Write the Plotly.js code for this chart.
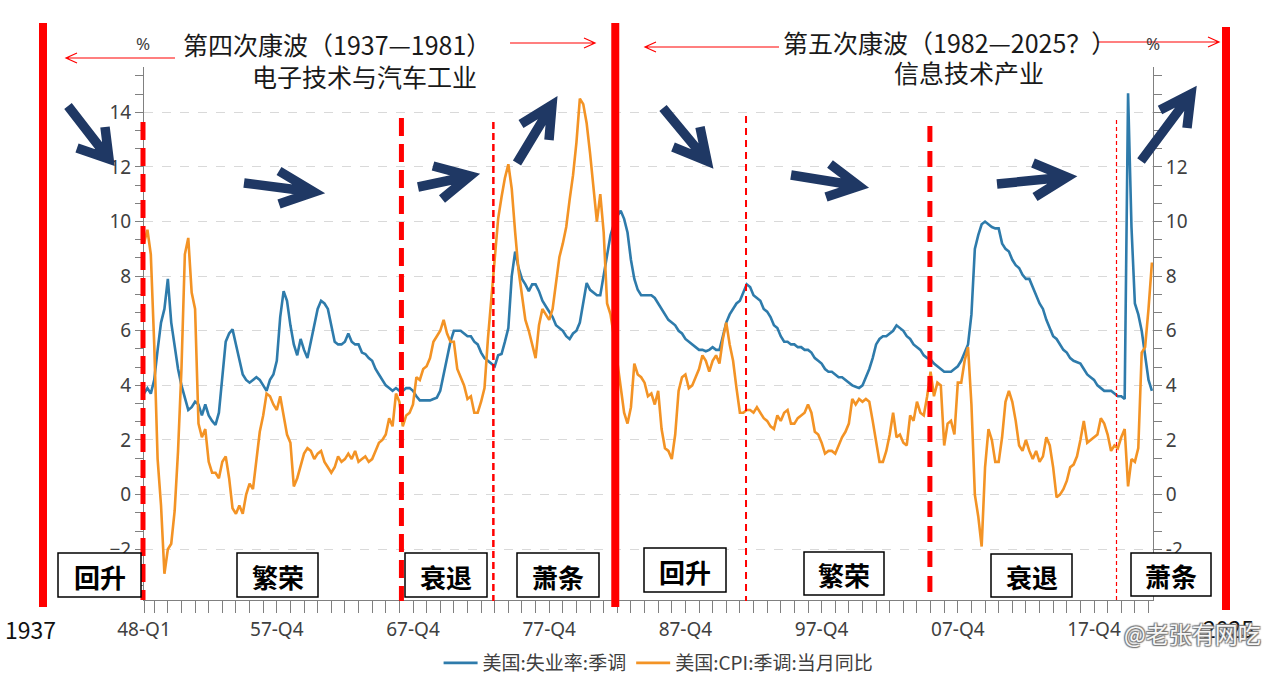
<!DOCTYPE html>
<html>
<head>
<meta charset="utf-8">
<script src="https://cdn.plot.ly/plotly-3.0.1.min.js"></script>
<style>html,body{margin:0;padding:0;background:#fff;}#chart{width:1265px;height:677px;}</style>
</head>
<body>
<div id="chart"></div>
<script>
// ---------------- DATA (quarterly, 1948-Q1 .. 2022-Q1) ----------------
const startYear = 1948;
const seriesNames = ['美国:失业率:季调', '美国:CPI:季调:当月同比'];
const unemployment = [
  3.7, 3.9, 3.7, 4.2,   5.3, 6.3, 6.8, 7.9,   6.3, 5.5, 4.6, 4.0,   3.5, 3.1, 3.2, 3.4,
  3.3, 2.9, 3.3, 2.9,   2.7, 2.55, 3.0, 4.3,  5.6, 5.9, 6.05, 5.5,  4.9, 4.4, 4.2, 4.1,
  4.2, 4.3, 4.2, 4.0,   3.8, 4.2, 4.4, 4.9,   6.5, 7.45, 7.1, 6.2,  5.5, 5.1, 5.7, 5.3,
  5.0, 5.6, 6.2, 6.8,   7.1, 7.0, 6.8, 6.2,   5.6, 5.5, 5.5, 5.6,   5.9, 5.6, 5.5, 5.5,
  5.2, 5.15, 5.0, 4.9,  4.6, 4.4, 4.2, 4.0,   3.9, 3.8, 3.9, 3.8,   3.8, 3.9, 3.9, 3.8,
  3.6, 3.45, 3.45, 3.45, 3.45, 3.5, 3.55, 3.8, 4.4, 5.0, 5.6, 6.0,  6.0, 6.0, 5.9, 5.8,
  5.8, 5.6, 5.5, 5.2,   5.0, 4.9, 4.8, 4.7,   5.1, 5.15, 5.6, 6.1,  8.0, 8.9, 8.3, 7.9,
  7.7, 7.45, 7.7, 7.7,  7.45, 7.1, 6.9, 6.7,  6.5, 6.2, 6.1, 6.0,   5.8, 5.7, 5.9, 6.0,
  6.3, 7.0, 7.75, 7.5,  7.4, 7.3, 7.3, 8.0,   8.8, 9.5, 9.9, 10.2,  10.4, 10.1, 9.6, 8.6,
  7.9, 7.5, 7.3, 7.3,   7.3, 7.3, 7.2, 7.0,   6.8, 6.6, 6.4, 6.3,   6.2, 6.0, 5.9, 5.7,
  5.6, 5.5, 5.4, 5.3,   5.3, 5.25, 5.3, 5.4,  5.3, 5.3, 5.8, 6.3,   6.6, 6.8, 7.0, 7.1,
  7.4, 7.7, 7.6, 7.3,   7.2, 7.1, 6.8, 6.7,   6.5, 6.2, 6.1, 5.8,   5.6, 5.6, 5.5, 5.5,
  5.4, 5.4, 5.3, 5.3,   5.2, 5.0, 4.9, 4.8,   4.6, 4.5, 4.5, 4.4,   4.3, 4.3, 4.2, 4.1,
  4.0, 3.95, 3.9, 4.0,  4.3, 4.6, 5.0, 5.5,   5.7, 5.8, 5.8, 5.9,   6.0, 6.2, 6.1, 6.0,
  5.8, 5.7, 5.5, 5.4,   5.3, 5.1, 5.0, 4.95,  4.8, 4.7, 4.6, 4.5,   4.5, 4.5, 4.6, 4.7,
  4.9, 5.2, 5.5, 6.6,   9.0, 9.5, 9.9, 10.0,  9.9, 9.8, 9.75, 9.75, 9.2, 9.0, 8.9, 8.6,
  8.4, 8.3, 8.05, 7.9,  7.9, 7.6, 7.3, 7.0,   6.8, 6.4, 6.1, 5.8,   5.7, 5.5, 5.3, 5.2,
  5.0, 4.9, 4.85, 4.8,  4.6, 4.4, 4.3, 4.2,   4.0, 3.9, 3.8, 3.8,   3.8, 3.7, 3.6, 3.6,
  3.5, 14.7, 9.8, 7.0,  6.6, 6.0, 5.1, 4.2,   3.8
];
const cpi = [
  9.2, 9.7, 8.8, 5.5,   1.3, -0.4, -2.9, -2.0, -1.8, -0.6, 1.6, 4.6, 8.8, 9.4, 7.4, 6.8,
  2.6, 2.1, 2.4, 1.2,   0.8, 0.8, 0.6, 1.2,   1.4, 0.6, -0.5, -0.7, -0.4, -0.7, 0.0, 0.4,
  0.2, 1.3, 2.3, 2.9,   3.7, 3.6, 3.3, 3.1,   3.6, 2.9, 2.2, 1.9,   0.3, 0.6, 1.1, 1.5,
  1.7, 1.6, 1.3, 1.5,   1.6, 1.2, 1.0, 0.8,   1.0, 1.4, 1.2, 1.3,   1.5, 1.3, 1.6, 1.2,
  1.3, 1.4, 1.2, 1.3,   1.6, 1.9, 2.0, 2.2,   2.8, 2.5, 3.7, 3.4,   2.5, 2.9, 3.0, 3.3,
  4.3, 4.2, 4.6, 4.7,   5.0, 5.6, 5.8, 6.0,   6.4, 5.9, 5.6, 5.6,   4.6, 4.3, 4.0, 3.5,
  3.6, 3.0, 3.0, 3.4,   3.9, 5.7, 7.1, 8.8,   10.1, 10.9, 11.6, 12.1, 11.2, 9.6, 8.2, 7.3,
  6.4, 6.0, 5.5, 5.0,   6.2, 6.8, 6.6, 6.4,   6.8, 7.7, 8.7, 9.2,   9.8, 10.8, 11.7, 12.9,
  14.5, 14.3, 13.6, 12.5, 11.3, 10.0, 11.0, 9.6, 7.0, 6.6, 5.8, 4.8, 4.0, 3.0, 2.6, 3.2,
  4.8, 4.4, 4.3, 4.1,   3.6, 3.7, 3.3, 3.8,   2.4, 1.7, 1.6, 1.3,   2.2, 3.8, 4.3, 4.4,
  3.9, 4.0, 4.3, 4.6,   5.1, 4.9, 4.5, 4.9,   5.1, 4.8, 5.7, 6.3,   5.5, 4.9, 3.9, 3.0,
  3.0, 3.1, 3.1, 3.0,   3.2, 3.0, 2.8, 2.7,   2.5, 2.4, 2.9, 2.7,   3.0, 3.1, 2.6, 2.6,
  2.8, 2.9, 3.0, 3.3,   3.0, 2.3, 2.2, 1.9,   1.5, 1.6, 1.6, 1.5,   1.8, 2.1, 2.3, 2.6,
  3.5, 3.3, 3.5, 3.4,   3.5, 3.4, 2.7, 1.9,   1.2, 1.2, 1.6, 2.2,   3.0, 2.1, 2.2, 1.9,
  1.8, 2.9, 2.7, 3.4,   3.0, 2.9, 3.6, 4.5,   3.6, 4.1, 4.0, 1.8,   2.6, 2.7, 2.2, 4.1,
  4.1, 4.9, 5.4, 3.3,   0.0, -0.8, -1.9, 1.0, 2.4, 2.0, 1.2, 1.2,   2.1, 3.4, 3.8, 3.4,
  2.7, 1.8, 1.6, 2.0,   1.6, 1.3, 1.6, 1.2,   1.4, 2.1, 1.8, 1.0,   -0.1, 0.0, 0.2, 0.5,
  1.0, 1.1, 1.4, 2.0,   2.7, 1.9, 2.0, 2.1,   2.2, 2.8, 2.6, 2.2,   1.6, 1.8, 1.7, 2.1,
  2.4, 0.3, 1.3, 1.2,   1.7, 5.2, 5.4, 6.8,   8.5
];
const tickLabels = ['48-Q1', '57-Q4', '67-Q4', '77-Q4', '87-Q4', '97-Q4', '07-Q4', '17-Q4'];
const yTickValues = [-2, 0, 2, 4, 6, 8, 10, 12, 14];
const phaseNames = ['回升', '繁荣', '衰退', '萧条', '回升', '繁荣', '衰退', '萧条'];
const waveTitles = ['第四次康波（1937—1981）', '电子技术与汽车工业', '第五次康波（1982—2025？）', '信息技术产业'];
const yearMarks = ['1937', '2025'];

// ---------------- derived x values ----------------
const xs = unemployment.map((_, i) => startYear + i / 4);
function labelPos(s) {
  const yy = parseInt(s.slice(0, 2), 10);
  const year = yy >= 40 ? 1900 + yy : 2000 + yy;
  const q = parseInt(s.slice(-1), 10);
  return year + (q - 1) / 4;
}
const tickvals = [startYear];
for (let y = startYear; y <= 2021; y++) tickvals.push(y + 0.75);
const labelMap = {};
tickLabels.forEach(s => { labelMap[labelPos(s).toFixed(2)] = s; });
const ticktext = tickvals.map(v => labelMap[v.toFixed(2)] || '');

// ---------------- pixel helpers for decorations ----------------
const L = 144, T = 67, W = 1009, H = 533;
const px = x => (x - L) / W;
const py = y => (T + H - y) / H;
const P = (x, y) => px(x).toFixed(5) + ',' + py(y).toFixed(5);

const RED = '#ff0000';
const NAVY = '#1f3864';
const shapes = [];
const annotations = [];

// big solid red dividers
shapes.push({type:'line', xref:'paper', yref:'paper', x0:px(43), x1:px(43), y0:py(23), y1:py(607), line:{color:RED, width:8}, layer:'above'});
shapes.push({type:'line', xref:'x', yref:'paper', x0:1982.6, x1:1982.6, y0:py(23), y1:py(607), line:{color:RED, width:8}, layer:'above'});
shapes.push({type:'line', xref:'paper', yref:'paper', x0:px(1226), x1:px(1226), y0:py(27), y1:py(610), line:{color:RED, width:8}, layer:'above'});

// dashed phase lines
shapes.push({type:'line', xref:'paper', yref:'paper', x0:px(143), x1:px(143), y0:py(122), y1:py(600), line:{color:RED, width:5, dash:'18px,8px'}, layer:'above'});
[
  {x:1966.9, top:118, w:5, d:'18px,8px'},
  {x:1973.65, top:122, w:2.5, d:'7px,4px'},
  {x:1992.2, top:116, w:2, d:'7px,5px'},
  {x:2005.7, top:126, w:5, d:'16px,9px'},
  {x:2019.4, top:120, w:1.2, d:'4px,3px'}
].forEach(o => shapes.push({type:'line', xref:'x', yref:'paper', x0:o.x, x1:o.x, y0:py(o.top), y1:py(601), line:{color:RED, width:o.w, dash:o.d}, layer:'above'}));

// thin red range arrows
function thinArrow(x1, x2, y) {
  const dir = x2 > x1 ? 1 : -1;
  const hx = x2 - dir * 11;
  return {type:'path', xref:'paper', yref:'paper', layer:'above',
    path:'M' + P(x1, y) + 'L' + P(x2, y) + 'M' + P(hx, y - 5) + 'L' + P(x2, y) + 'L' + P(hx, y + 5),
    line:{color:RED, width:1.2}};
}
shapes.push(thinArrow(175, 66, 58));
shapes.push(thinArrow(510, 595, 43));
shapes.push(thinArrow(779, 645, 47));
shapes.push(thinArrow(1097, 1219, 42));

// navy trend arrows
function bigArrow(t, h, a1, a2) {
  return {type:'path', xref:'paper', yref:'paper', layer:'above',
    path:'M' + P(t[0], t[1]) + 'L' + P(h[0], h[1]) + 'M' + P(a1[0], a1[1]) + 'L' + P(h[0], h[1]) + 'L' + P(a2[0], a2[1]),
    line:{color:NAVY, width:9.5}};
}
shapes.push(bigArrow([68,106],[109,159],[105,127],[77,148]));
shapes.push(bigArrow([244,183],[314,192],[279,171],[279,204]));
shapes.push(bigArrow([418,187],[470,176],[433,166],[442,199]));
shapes.push(bigArrow([517,163],[552,105],[521,124],[549,140]));
shapes.push(bigArrow([663,108],[707,161],[700,127],[673,147]));
shapes.push(bigArrow([791,175],[859,186],[830,164],[826,197]));
shapes.push(bigArrow([997,184],[1067,177],[1033,163],[1035,197]));
shapes.push(bigArrow([1141,161],[1191,94],[1160,110],[1187,128]));

// phase boxes
const boxes = [
  [58,553,141,597],[237,553,318,597],[405,553,487,597],[517,553,599,597],
  [644,548,726,592],[804,552,884,595],[991,554,1072,597],[1131,553,1211,596]
];
boxes.forEach((b, i) => {
  shapes.push({type:'rect', xref:'paper', yref:'paper', x0:px(b[0]), x1:px(b[2]), y0:py(b[3]), y1:py(b[1]),
    fillcolor:'#ffffff', line:{color:'#000000', width:1.5}, layer:'above'});
  annotations.push({xref:'paper', yref:'paper', x:px((b[0]+b[2])/2), y:py((b[1]+b[3])/2 + 1), xanchor:'center', yanchor:'middle',
    text:phaseNames[i], showarrow:false, font:{family:'Noto Sans CJK SC', size:26, color:'#000', weight:700}});
});

// titles
const tfont = {family:'Noto Sans CJK SC', size:25, color:'#1a1a1a'};
[[337,44],[364,76],[949,42],[969,72]].forEach((p, i) => {
  annotations.push({xref:'paper', yref:'paper', x:px(p[0]), y:py(p[1]), xanchor:'center', yanchor:'middle',
    text:waveTitles[i], showarrow:false, font:tfont, borderpad:0});
});
// % unit labels
[[143,44],[1153,44]].forEach(p => annotations.push({xref:'paper', yref:'paper', x:px(p[0]), y:py(p[1]), xanchor:'center', yanchor:'middle',
  text:'%', showarrow:false, font:{family:'Noto Sans', size:17, color:'#404040'}}));
// year marks
[[30,629],[1228,628]].forEach((p, i) => annotations.push({xref:'paper', yref:'paper', x:px(p[0]), y:py(p[1]), xanchor:'center', yanchor:'middle',
  text:yearMarks[i], showarrow:false, font:{family:'Noto Sans CJK SC', size:23, color:'#111'}}));
// watermark
annotations.push({xref:'paper', yref:'paper', x:px(1192), y:py(633), xanchor:'center', yanchor:'middle',
  text:'@老张有网吃', showarrow:false,
  font:{family:'Noto Sans CJK SC', size:23, color:'rgba(255,255,255,0.95)', shadow:'1px 1px 1px #777, -1px -1px 1px #777, 1px -1px 1px #777, -1px 1px 1px #777'}});

const yRange = [-3.86, 15.66];
const axisGray = '#808080';
const tickFont = {family:'Noto Sans', size:19, color:'#404040'};

const traces = [
  {x:xs, y:unemployment, name:seriesNames[0], type:'scatter', mode:'lines', line:{color:'#2e7bab', width:2.6}, yaxis:'y'},
  {x:xs, y:cpi, name:seriesNames[1], type:'scatter', mode:'lines', line:{color:'#f39325', width:2.6}, yaxis:'y2'}
];

const layout = {
  width:1265, height:677,
  margin:{l:L, r:1265 - L - W, t:T, b:677 - T - H, pad:0, autoexpand:false},
  paper_bgcolor:'#ffffff', plot_bgcolor:'#ffffff',
  font:{family:'Noto Sans CJK SC, Noto Sans, sans-serif', color:'#404040'},
  showlegend:true,
  legend:{orientation:'h', x:0.51, xanchor:'center', y:py(663), yanchor:'middle',
    font:{family:'Noto Sans CJK SC', size:19, color:'#404040'}, itemwidth:34, tracegroupgap:0},
  xaxis:{type:'linear', range:[startYear, 2022.08], showgrid:false, zeroline:false,
    showline:true, linecolor:axisGray, linewidth:1,
    ticks:'outside', ticklen:12, tickcolor:axisGray, tickwidth:1,
    tickmode:'array', tickvals:tickvals, ticktext:ticktext, tickfont:tickFont, tickangle:0},
  yaxis:{range:yRange, showline:true, linecolor:axisGray, linewidth:1, zeroline:false,
    tickmode:'array', tickvals:yTickValues, ticks:'outside', ticklen:8, tickcolor:axisGray, tickfont:tickFont,
    showgrid:true, gridcolor:'#d9d9d9', griddash:'dash', gridwidth:1,
    minor:{tickmode:'linear', tick0:-2, dtick:2/3, ticks:'outside', ticklen:8, tickcolor:axisGray, showgrid:false}},
  yaxis2:{range:yRange, overlaying:'y', side:'right', anchor:'x', showline:true, linecolor:axisGray, linewidth:1, zeroline:false,
    tickmode:'array', tickvals:yTickValues, ticktext:yTickValues.map(v => v === 14 ? '' : String(v)),
    ticks:'outside', ticklen:8, tickcolor:axisGray, tickfont:tickFont, showgrid:false,
    minor:{tickmode:'linear', tick0:-2, dtick:2/3, ticks:'outside', ticklen:8, tickcolor:axisGray, showgrid:false}},
  shapes:shapes,
  annotations:annotations
};

Plotly.newPlot('chart', traces, layout, {displayModeBar:false, staticPlot:true});
</script>
</body>
</html>
